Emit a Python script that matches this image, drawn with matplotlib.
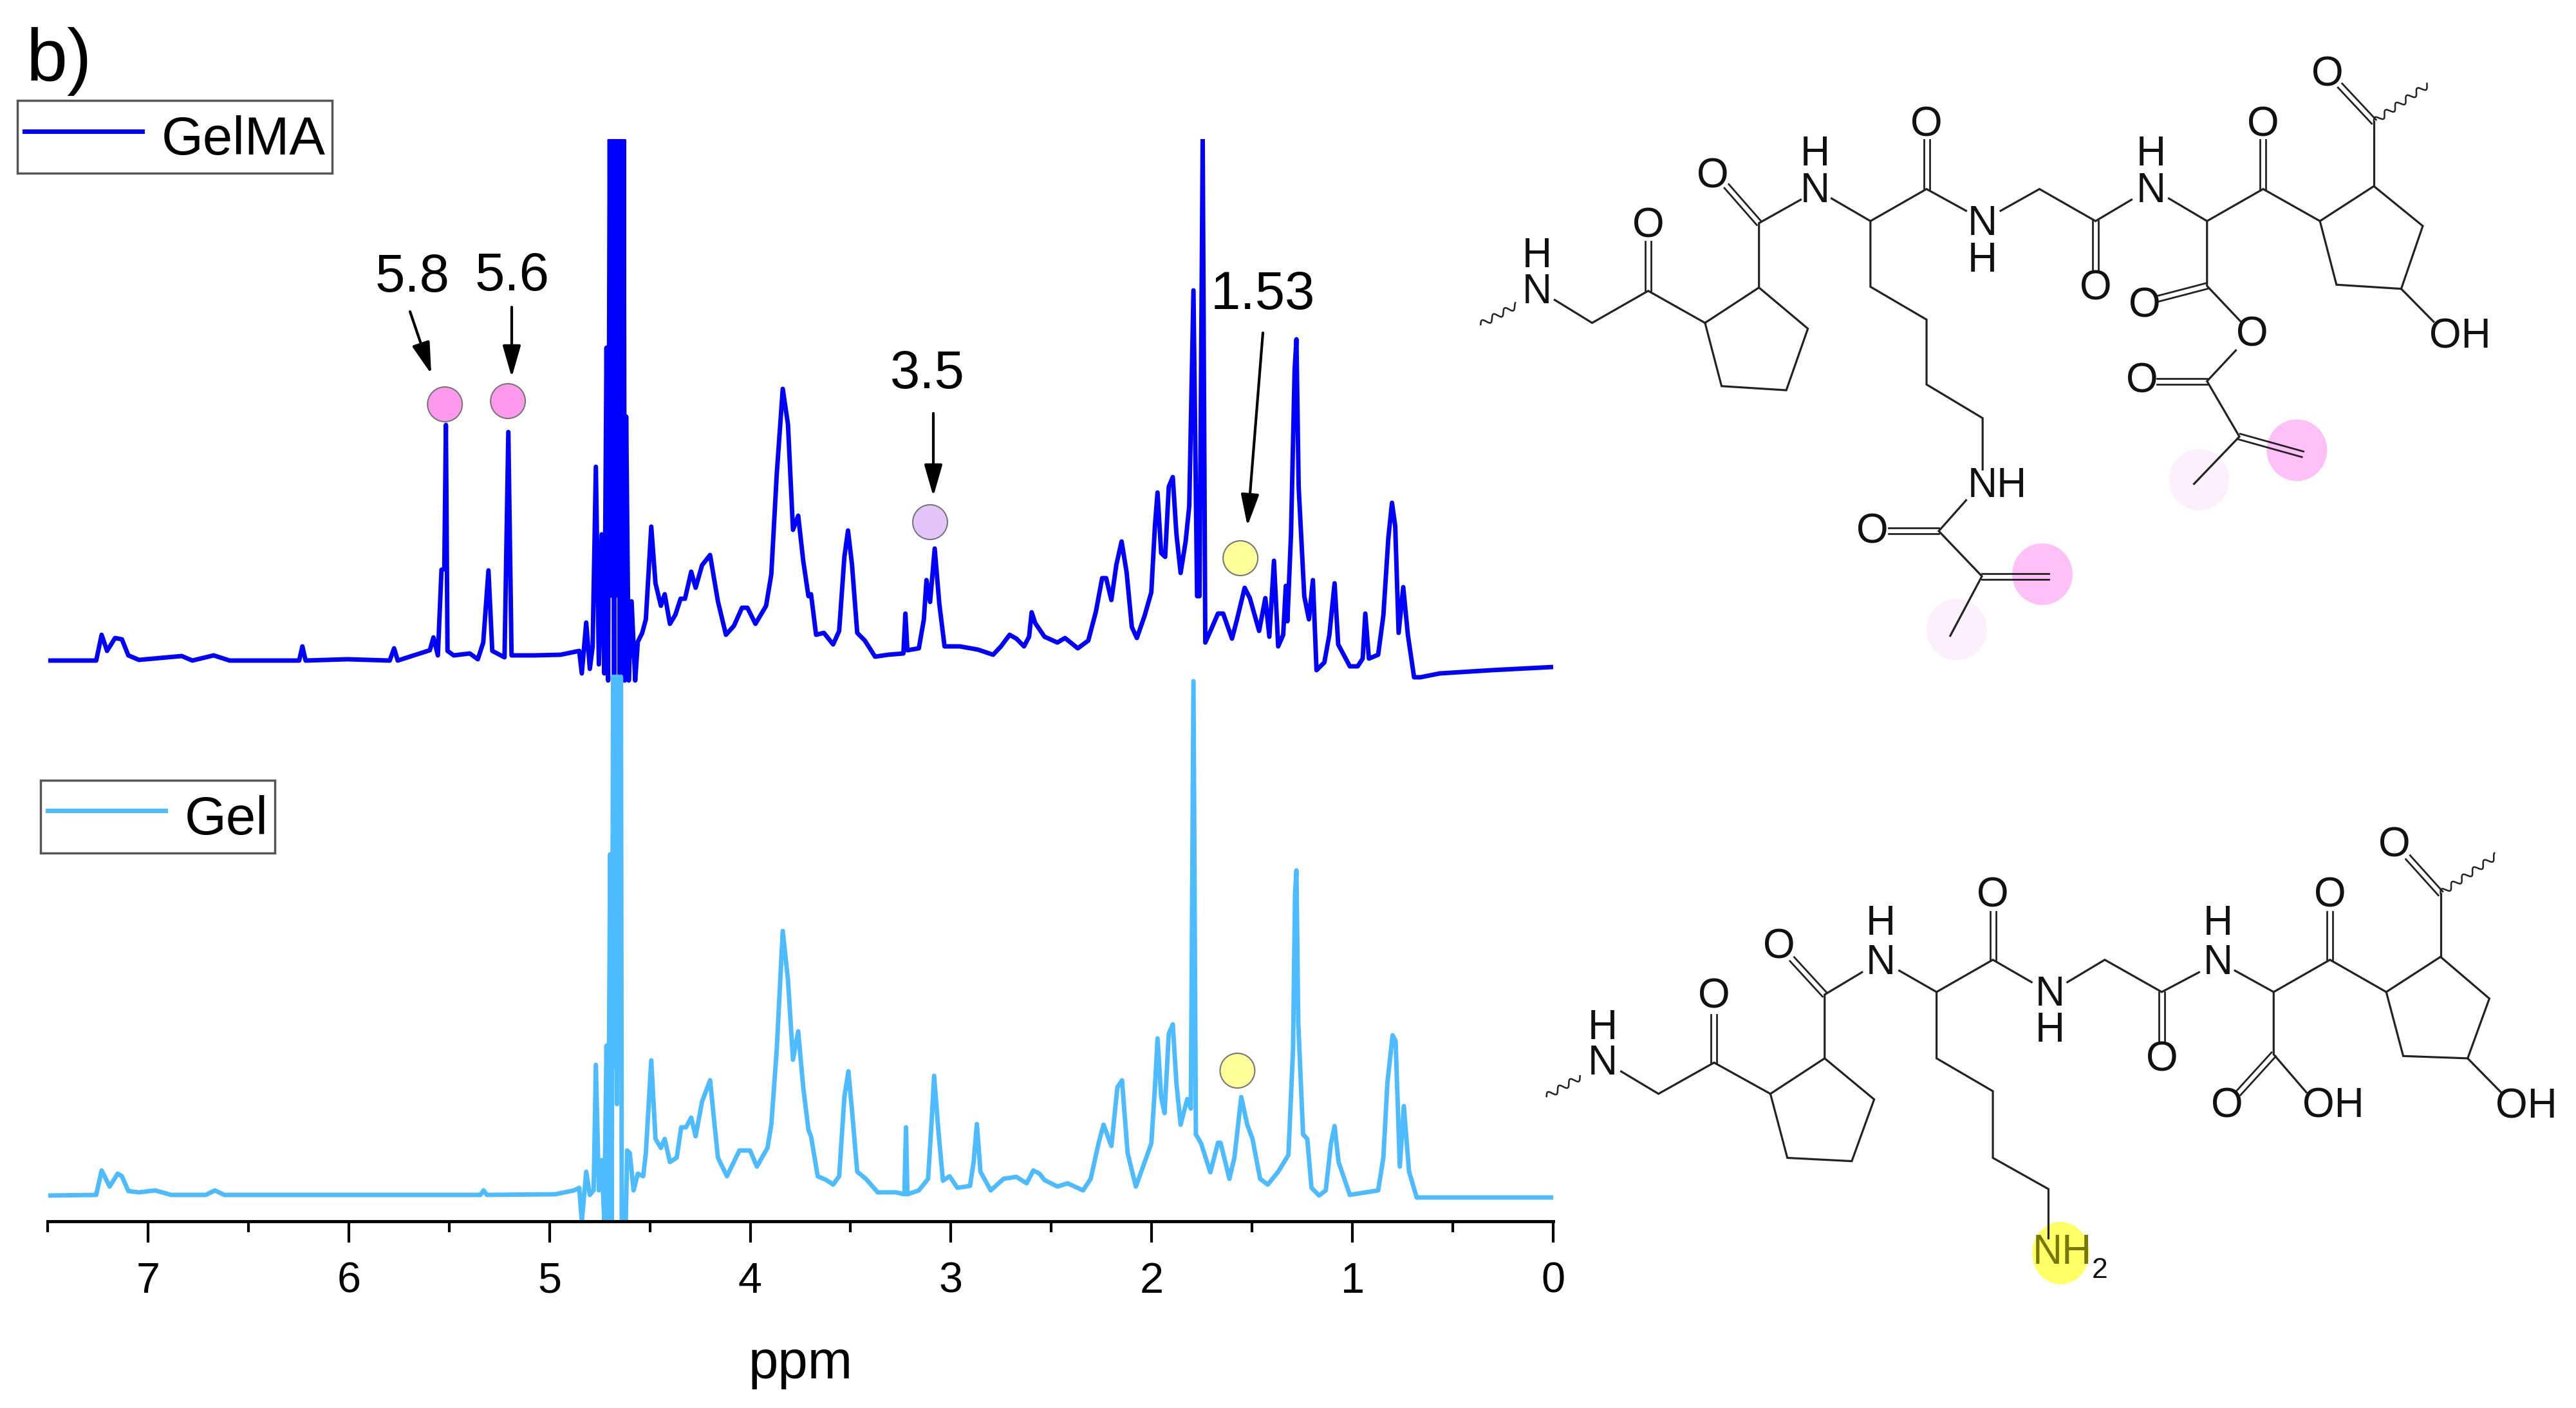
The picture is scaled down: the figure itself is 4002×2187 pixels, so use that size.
import numpy as np
import matplotlib
matplotlib.use('Agg')
import matplotlib.pyplot as plt
from matplotlib.lines import Line2D
from matplotlib.patches import Ellipse

plt.rcParams['font.family'] = ['Liberation Sans', 'DejaVu Sans']

W, H = 4002, 2187

# spectra, chemical shift and height over own baseline
gelma_ppm = [7.497, 7.258, 7.231, 7.204, 7.164, 7.13, 7.098, 7.045, 6.832, 6.779, 6.673, 6.593, 6.247, 6.231, 6.215,
             6.008, 5.796, 5.774, 5.756, 5.676, 5.596, 5.578, 5.556, 5.538, 5.524, 5.516, 5.508, 5.477, 5.397, 5.357,
             5.33, 5.304, 5.285, 5.224, 5.205, 5.189, 5.078, 4.945, 4.852, 4.839, 4.817, 4.799, 4.785, 4.769, 4.754,
             4.74, 4.727, 4.716, 4.708, 4.7, 4.693, 4.686, 4.678, 4.671, 4.664, 4.657, 4.65, 4.643, 4.636, 4.63,
             4.625, 4.618, 4.605, 4.591, 4.573, 4.56, 4.538, 4.52, 4.493, 4.472, 4.445, 4.426, 4.4, 4.373, 4.347,
             4.325, 4.294, 4.272, 4.24, 4.2, 4.161, 4.121, 4.081, 4.041, 4.014, 3.974, 3.921, 3.895, 3.868, 3.838,
             3.812, 3.787, 3.761, 3.736, 3.71, 3.697, 3.672, 3.633, 3.587, 3.557, 3.531, 3.513, 3.493, 3.467, 3.429,
             3.378, 3.314, 3.237, 3.227, 3.217, 3.16, 3.135, 3.122, 3.104, 3.081, 3.058, 3.032, 2.956, 2.866, 2.79,
             2.751, 2.708, 2.674, 2.636, 2.611, 2.598, 2.58, 2.534, 2.47, 2.432, 2.368, 2.316, 2.278, 2.247, 2.227,
             2.201, 2.176, 2.15, 2.125, 2.099, 2.074, 2.035, 2.002, 1.984, 1.971, 1.953, 1.933, 1.915, 1.895, 1.877,
             1.856, 1.831, 1.813, 1.792, 1.774, 1.762, 1.746, 1.733, 1.703, 1.67, 1.644, 1.6, 1.575, 1.537, 1.511,
             1.465, 1.434, 1.414, 1.391, 1.37, 1.345, 1.332, 1.324, 1.306, 1.288, 1.279, 1.268, 1.24, 1.217, 1.197,
             1.179, 1.14, 1.115, 1.089, 1.071, 1.013, 0.974, 0.949, 0.936, 0.918, 0.872, 0.846, 0.821, 0.803, 0.787,
             0.77, 0.747, 0.724, 0.693, 0.662, 0.565, 0.309, 0.0]
gelma_int = [-1, -1, 39, 14, 34, 32, 7, 0, 6, -1, 7, -1, -1, 21, -1,
             1, -1, 18, -1, 7, 15, 35, 7, 140, 141, 365, 14, 7, 10, 1,
             27, 139, 14, 4, 354, 7, 7, 8, 14, -21, 58, -14, 21, 300, -7,
             195, -21, 485, -32, 808, 100, 808, -32, 808, 100, 808, -32, 808, -32, 808,
             -32, 378, -32, 91, -32, 28, 42, 63, 207, 119, 84, 102, 56, 70, 95,
             95, 137, 112, 147, 163, 91, 39, 53, 81, 81, 56, 84, 133, 288, 421,
             366, 202, 224, 154, 99, 102, 39, 42, 24, 45, 160, 201, 148, 42, 30,
             5, 8, 10, 72, 15, 18, 63, 124, 90, 173, 87, 21, 21, 16, 8,
             21, 39, 33, 21, 36, 74, 57, 36, 27, 34, 18, 30, 75, 127, 127,
             93, 148, 184, 136, 51, 34, 69, 105, 208, 260, 166, 160, 269, 284, 196,
             135, 184, 239, 574, 99, 99, 809, 27, 48, 72, 72, 33, 63, 112, 96,
             45, 96, 36, 154, 21, 39, 115, 60, 196, 451, 498, 269, 99, 63, 124,
             -16, -4, 39, 119, 24, -10, -10, 2, 72, 2, 8, 69, 190, 244, 208,
             42, 113, 39, -27, -27, -21, -16, -11]

gel_ppm = [7.497, 7.258, 7.231, 7.191, 7.151, 7.13, 7.098, 7.045, 6.965, 6.885, 6.712, 6.667, 6.62, 5.344, 5.328,
           5.312, 4.971, 4.878, 4.852, 4.839, 4.817, 4.799, 4.78, 4.769, 4.754, 4.74, 4.727, 4.716, 4.708, 4.698,
           4.69, 4.683, 4.676, 4.67, 4.664, 4.658, 4.65, 4.644, 4.64, 4.62, 4.613, 4.6, 4.581, 4.56, 4.533,
           4.52, 4.493, 4.472, 4.445, 4.426, 4.4, 4.366, 4.344, 4.32, 4.294, 4.272, 4.24, 4.2, 4.161, 4.116,
           4.054, 4.001, 3.967, 3.914, 3.895, 3.868, 3.838, 3.812, 3.787, 3.761, 3.736, 3.71, 3.697, 3.664, 3.62,
           3.587, 3.557, 3.531, 3.511, 3.493, 3.467, 3.424, 3.365, 3.275, 3.232, 3.224, 3.217, 3.16, 3.114, 3.096,
           3.084, 3.063, 3.04, 3.007, 2.968, 2.905, 2.887, 2.871, 2.853, 2.802, 2.738, 2.674, 2.623, 2.59, 2.559,
           2.534, 2.47, 2.419, 2.342, 2.304, 2.265, 2.24, 2.201, 2.171, 2.148, 2.12, 2.079, 2.043, 2.002, 1.984,
           1.971, 1.953, 1.936, 1.915, 1.895, 1.877, 1.856, 1.823, 1.805, 1.792, 1.78, 1.754, 1.708, 1.67, 1.657,
           1.613, 1.588, 1.554, 1.524, 1.498, 1.46, 1.422, 1.37, 1.319, 1.296, 1.286, 1.279, 1.27, 1.246, 1.225,
           1.204, 1.166, 1.133, 1.107, 1.089, 1.069, 1.013, 0.872, 0.846, 0.826, 0.8, 0.785, 0.764, 0.744, 0.718,
           0.68, 0.0]
gel_int = [-1, 0, 38, 13, 33, 29, 6, 4, 7, 0, 0, 7, 0, 0, 7,
           0, 1, 7, 11, -41, 36, 0, 7, 202, 7, 54, -41, 232, -41, 529,
           -41, 805, 200, 805, 141, 805, 200, 805, -41, -41, 69, 65, 7, 33, 29,
           65, 209, 87, 73, 87, 51, 58, 105, 105, 120, 91, 145, 178, 58, 29,
           69, 69, 44, 73, 109, 225, 410, 334, 210, 254, 167, 101, 91, 29, 23,
           16, 29, 152, 192, 131, 36, 25, 4, 4, 1, 105, 1, 7, 25, 116,
           185, 101, 22, 29, 11, 14, 51, 110, 36, 7, 25, 28, 18, 38, 33,
           23, 13, 18, 7, 25, 80, 109, 76, 167, 178, 65, 13, 44, 80, 167,
           243, 152, 127, 250, 265, 174, 109, 149, 134, 798, 94, 80, 35, 81, 81,
           25, 58, 152, 109, 87, 25, 16, 36, 62, 225, 468, 504, 268, 94, 87,
           11, -1, 7, 80, 107, 51, 0, 7, 58, 174, 248, 239, 44, 138, 36,
           -4, -4]

gelma_offset = 872
gel_offset = 41

# peak marks: ppm, height in axes units
dot_ppm = [5.521, 5.207, 3.104, 1.558, 1.573]
dot_y = [1269, 1274, 1086, 1030, 234]
dot_col = ['#FF99EE', '#FF99EE', '#E3C5FB', '#FFFF99', '#FFFF99']

peak_labels = ['5.8', '5.6', '3.5', '1.53']
label_x = [583, 738, 1383, 1881]
label_y = [453, 451, 603, 480]
arrow_from = [(637, 484), (795, 477), (1450, 642), (1962, 517)]
arrow_to = [(670, 581), (795, 586), (1450, 771), (1938, 817)]

BLUE = '#0000FF'
SKY = '#4DBBFF'
BOND = '#222222'

# molecule drawing, coordinates are in drawing units
mol1_chain = [
    [(148, 652), (200, 708), (278, 630), (357, 708), (432, 622), (500, 722), (470, 872), (380, 862), (357, 708)],
    [(432, 622), (432, 465), (490, 408)],
    [(533, 405), (587, 460), (665, 382), (720, 435)],
    [(768, 435), (822, 382), (900, 460), (950, 408)],
    [(1002, 405), (1055, 460), (1133, 382), (1212, 460), (1287, 375), (1355, 472), (1325, 625), (1235, 615), (1212, 460)],
    [(1287, 375), (1287, 218)],
    [(1325, 625), (1370, 705)],
    [(1055, 460), (1055, 618), (1102, 705)],
    [(1095, 775), (1055, 850), (1100, 985), (1037, 1100)],
    [(587, 460), (587, 620), (665, 700), (665, 858), (743, 940), (743, 1065)],
    [(720, 1140), (682, 1215), (742, 1325), (698, 1470)],
]
mol1_double = [
    [(278, 630), (278, 510)], [(432, 465), (387, 375)], [(665, 382), (665, 262)], [(900, 460), (900, 580)],
    [(1133, 382), (1133, 262)], [(1287, 218), (1240, 130)], [(1055, 618), (985, 650)], [(1055, 850), (985, 850)],
    [(1100, 985), (1188, 1028)], [(682, 1215), (612, 1215)], [(742, 1325), (835, 1325)],
]
mol1_wavy = [[(45, 712), (95, 665)], [(1287, 218), (1362, 128)]]
mol1_atoms = [
    ('N', 123, 634), ('H', 123, 546), ('O', 278, 472), ('O', 368, 352), ('N', 510, 387), ('H', 510, 298),
    ('O', 665, 226), ('N', 743, 468), ('H', 743, 556), ('O', 900, 625), ('N', 977, 387), ('H', 977, 298),
    ('O', 1133, 226), ('O', 1222, 105), ('OH', 1407, 742), ('O', 968, 667), ('O', 1118, 738), ('O', 965, 850),
    ('NH', 763, 1105), ('O', 590, 1218),
]
mol1_spots = [(1180, 1018, '#FFC0F8'), (1044, 1090, '#FDF0FD'), (826, 1320, '#FFC0F8'), (707, 1455, '#FDF0FD')]

mol2_chain = [
    [(160, 812), (215, 880), (297, 785), (380, 880), (460, 772), (533, 897), (500, 1085), (405, 1075), (380, 880)],
    [(460, 772), (460, 578), (515, 510)],
    [(570, 505), (625, 570), (708, 472), (765, 540)],
    [(818, 540), (873, 472), (957, 570), (1012, 510)],
    [(1065, 505), (1122, 570), (1205, 472), (1288, 570), (1368, 463), (1440, 590), (1408, 772), (1313, 765), (1288, 570)],
    [(1368, 463), (1368, 270)],
    [(1408, 772), (1457, 875)],
    [(1122, 570), (1122, 760), (1170, 875)],
    [(625, 570), (625, 772), (708, 872), (708, 1075), (790, 1170), (790, 1320)],
]
mol2_double = [
    [(297, 785), (297, 638)], [(460, 578), (412, 470)], [(708, 472), (708, 325)], [(957, 570), (957, 725)],
    [(1205, 472), (1205, 325)], [(1368, 270), (1320, 160)], [(1122, 760), (1070, 878)],
]
mol2_wavy = [[(50, 888), (100, 828)], [(1368, 270), (1450, 155)]]
mol2_atoms = [
    ('N', 133, 787), ('H', 133, 680), ('O', 297, 585), ('O', 393, 435), ('N', 543, 482), ('H', 543, 363),
    ('O', 708, 278), ('N', 792, 578), ('H', 792, 688), ('O', 957, 778), ('N', 1040, 482), ('H', 1040, 363),
    ('O', 1205, 278), ('O', 1300, 125), ('OH', 1495, 920), ('O', 1053, 918), ('OH', 1210, 918),
]


def draw_molecule(ov, chain, double, wavy, atoms, ox, oy, sx, sy):
    def to_px(pts):
        pts = np.array(pts, dtype=float)
        return ox + pts[:, 0] * sx, oy + pts[:, 1] * sy

    for line in chain:
        x, y = to_px(line)
        ov.plot(x, y, color=BOND, lw=2.3, solid_joinstyle='miter')
    for line in double:
        x, y = to_px(line)
        dx, dy = x[1] - x[0], y[1] - y[0]
        n = np.hypot(dx, dy)
        for s in (-4.5, 4.5):
            ov.plot(x + s * dy / n, y - s * dx / n, color=BOND, lw=2)
    for line in wavy:
        x, y = to_px(line)
        dx, dy = x[1] - x[0], y[1] - y[0]
        n = np.hypot(dx, dy)
        t = np.linspace(0, 1, 80)
        w = 5 * np.sin(t * 2 * np.pi * n / 20)
        ov.plot(x[0] + dx * t + w * dy / n, y[0] + dy * t - w * dx / n, color=BOND, lw=1.8)
    for name, ax_, ay_ in atoms:
        ov.text(ax_ * sx + ox, ay_ * sy + oy, name, ha='center', va='center', fontsize=46, color='#111111')


fig = plt.figure(figsize=(W / 100, H / 100), dpi=100, facecolor='white')

ax = fig.add_axes([74 / W, 1 - 1897 / H, (2413 - 74) / W, (1897 - 216) / H])
ax.plot(gelma_ppm, np.array(gelma_int) + gelma_offset, color=BLUE, lw=5, solid_joinstyle='round', solid_capstyle='butt')
ax.plot(gel_ppm, np.array(gel_int) + gel_offset, color=SKY, lw=5, solid_joinstyle='round', solid_capstyle='butt')
ax.scatter(dot_ppm, dot_y, s=1510, c=dot_col, edgecolors='#777777', linewidths=1.5, zorder=5)

ax.set_xlim(7.5, 0)
ax.set_ylim(0, 1681)
ax.set_xticks(range(8))
ax.set_xticks(np.arange(0.5, 8, 1), minor=True)
ax.set_yticks([])
ax.tick_params(axis='x', which='major', length=24, width=3, labelsize=48, pad=21)
ax.tick_params(axis='x', which='minor', length=12, width=3)
for s in ['left', 'right', 'top']:
    ax.spines[s].set_visible(False)
ax.spines['bottom'].set_linewidth(3.5)
ax.set_xlabel('ppm', fontsize=60, labelpad=42)
ax.patch.set_alpha(0)

leg1 = fig.legend(handles=[Line2D([], [], color=BLUE, lw=5, label='GelMA')], loc='upper left',
                  bbox_to_anchor=(27 / W, 1 - 156 / H), borderaxespad=0, fontsize=60, handlelength=2.2,
                  handletextpad=0.35, borderpad=0.13, handleheight=1.3, fancybox=False, edgecolor='#555555',
                  framealpha=1)
leg1.get_frame().set_linewidth(2.5)
leg2 = fig.legend(handles=[Line2D([], [], color=SKY, lw=5, label='Gel')], loc='upper left',
                  bbox_to_anchor=(63 / W, 1 - 1212 / H), borderaxespad=0, fontsize=60, handlelength=2.2,
                  handletextpad=0.35, borderpad=0.13, handleheight=1.3, fancybox=False, edgecolor='#555555',
                  framealpha=1)
leg2.get_frame().set_linewidth(2.5)

# overlay in reference pixels for labels and structures
ov = fig.add_axes([0, 0, 1, 1])
ov.set_xlim(0, W)
ov.set_ylim(H, 0)
ov.axis('off')
ov.patch.set_alpha(0)

ov.text(41, 125, 'b)', fontsize=83, ha='left', va='baseline')
for txt, x, y in zip(peak_labels, label_x, label_y):
    ov.text(x, y, txt, fontsize=60, ha='left', va='baseline')
for a, b in zip(arrow_from, arrow_to):
    ov.annotate('', xy=b, xytext=a,
                arrowprops=dict(arrowstyle='-|>,head_length=30,head_width=8.6', mutation_scale=1, color='black',
                                lw=3, shrinkA=0, shrinkB=0))

# first structure
sx1, sy1 = 1 / 0.895, 1 / 1.568
for x, y, c in mol1_spots:
    ov.add_patch(Ellipse((2250 + x * sx1, 50 + y * sy1), 84 * sx1, 150 * sy1, facecolor=c, edgecolor='none'))
draw_molecule(ov, mol1_chain, mol1_double, mol1_wavy, mol1_atoms, 2250, 50, sx1, sy1)

# second structure
sx2, sy2 = 1 / 0.949, 1 / 1.96
ov.add_patch(Ellipse((2350 + 808 * sx2, 1250 + 1365 * sy2), 84 * sx2, 190 * sy2, facecolor='#FFFF66', edgecolor='none'))
draw_molecule(ov, mol2_chain, mol2_double, mol2_wavy, mol2_atoms, 2350, 1250, sx2, sy2)
ov.text(2350 + 810 * sx2, 1250 + 1365 * sy2, 'NH', ha='center', va='center', fontsize=46, color='#77770A')
ov.text(2350 + 866 * sx2, 1250 + 1418 * sy2, '2', ha='center', va='center', fontsize=32, color='#111111')

fig.savefig('out.png', dpi=100)
